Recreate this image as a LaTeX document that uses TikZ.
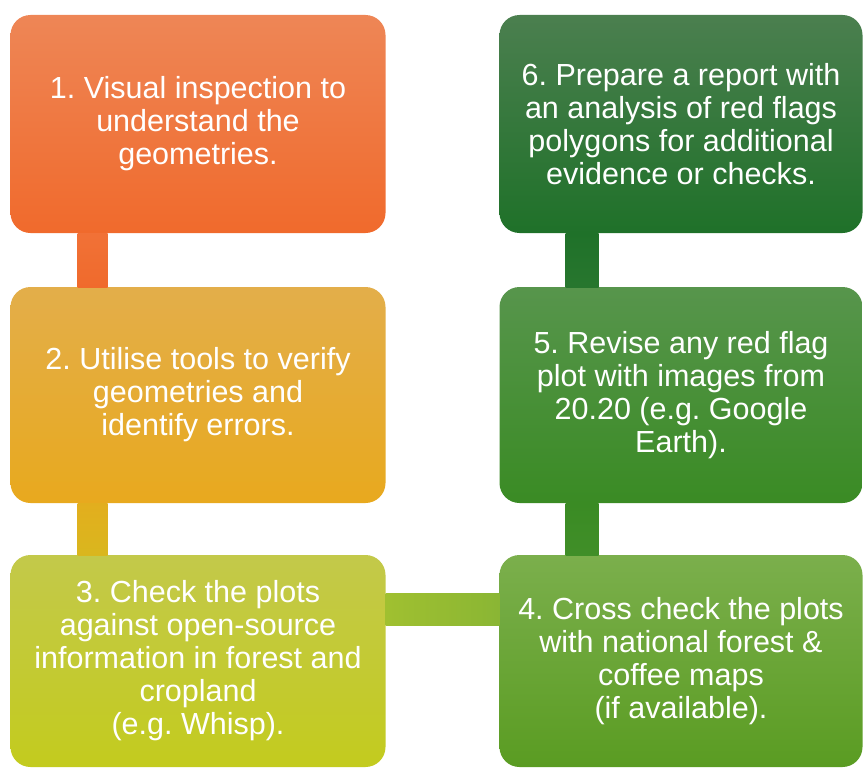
\documentclass[tikz,border=0pt]{standalone}
\usepackage{fontspec}
\setmainfont{Liberation Sans}
\usetikzlibrary{positioning,backgrounds}
\definecolor{orangetop}{HTML}{EE8656}
\definecolor{orangebot}{HTML}{F06A2C}
\definecolor{ambertop}{HTML}{E3AE4A}
\definecolor{amberbot}{HTML}{E8A91E}
\definecolor{limetop}{HTML}{C3C94A}
\definecolor{limebot}{HTML}{C3CB1E}
\definecolor{leaftop}{HTML}{7BAF4C}
\definecolor{leafbot}{HTML}{5A9C22}
\definecolor{grasstop}{HTML}{57954C}
\definecolor{grassbot}{HTML}{3A8B24}
\definecolor{foresttop}{HTML}{4B7F4F}
\definecolor{forestbot}{HTML}{1F7129}
\tikzset{x=1pt, y=-1pt, % one unit is one pixel, y runs downwards
node distance=54pt, % gap between two boxes of a column
stagebox/.style={rounded corners=20pt, outer sep=0pt, inner sep=0pt, align=center, text=white,
  font=\fontsize{30.5}{33}\selectfont}, % sets the properties of each stage box
leftbox/.style={stagebox, minimum width=375pt},
rightbox/.style={stagebox, minimum width=363pt},
}
\frenchspacing

\begin{document}
\begin{tikzpicture}
\useasboundingbox (0,0) rectangle (864,768);
\node[leftbox, minimum height=218pt, top color=orangetop, bottom color=orangebot] (b1) at (198,124)
  {1. Visual inspection to\\understand the\\geometries.};
\node[leftbox, minimum height=216pt, top color=ambertop, bottom color=amberbot, below=of b1] (b2)
  {2. Utilise tools to verify\\geometries and\\identify errors.};
\node[leftbox, minimum height=212pt, top color=limetop, bottom color=limebot, below=52pt of b2] (b3)
  {3. Check the plots\\against open-source\\information in forest and\\cropland\\(e.g. Whisp).};
\node[rightbox, minimum height=218pt, top color=foresttop, bottom color=forestbot, right=114pt of b1] (b6)
  {6. Prepare a report with\\an analysis of red flags\\polygons for additional\\evidence or checks.};
\node[rightbox, minimum height=216pt, top color=grasstop, bottom color=grassbot, below=of b6] (b5)
  {5. Revise any red flag\\plot with images from\\20.20 (e.g. Google\\Earth).};
\node[rightbox, minimum height=212pt, top color=leaftop, bottom color=leafbot, below=52pt of b5] (b4)
  {4. Cross check the plots\\with national forest \&\\coffee maps\\(if available).};
% connectors
\shade[top color=orangebot!95!white, bottom color=orangebot] ([xshift=67pt]b1.south west) rectangle ([xshift=97pt]b2.north west);
\shade[top color=amberbot!85!limebot, bottom color=amberbot!60!limebot] ([xshift=67pt]b2.south west) rectangle ([xshift=97pt]b3.north west);
\shade[left color={rgb,255:red,160;green,192;blue,48}, right color={rgb,255:red,138;green,182;blue,52}] ([yshift=-38pt]b3.north east) rectangle ([yshift=-70pt]b4.north west);
\shade[top color=grassbot, bottom color=grassbot!90!leaftop] ([xshift=66pt]b5.south west) rectangle ([xshift=99pt]b4.north west);
\shade[top color=forestbot, bottom color=forestbot!85!grasstop] ([xshift=66pt]b6.south west) rectangle ([xshift=99pt]b5.north west);
\end{tikzpicture}
\end{document}
